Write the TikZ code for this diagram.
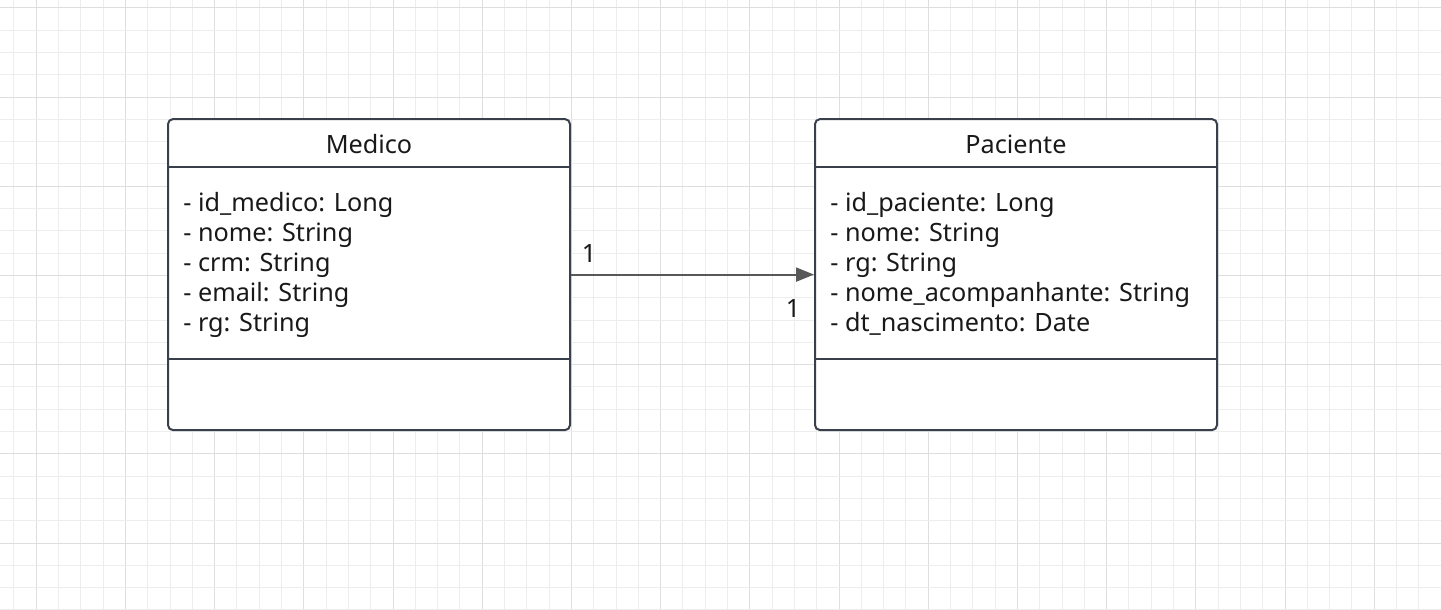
\documentclass[tikz,border=0pt]{standalone}
\usepackage{fontspec}
\setmainfont{Noto Sans}
\usetikzlibrary{arrows.meta}
\usetikzlibrary{positioning}

\definecolor{gridminor}{RGB}{237,237,237}
\definecolor{gridmajor}{RGB}{222,222,222}
\definecolor{boxline}{RGB}{58,64,75}
\definecolor{linkgray}{RGB}{88,88,88}

\tikzset{
  classbox/.style={draw=boxline, line width=1pt, rounded corners=2.5pt,
    fill=white, minimum width=201pt, minimum height=155.5pt, inner sep=0pt},
  classname/.style={font=\fontsize{12.6}{15}\selectfont, text=black!90,
    anchor=base, inner sep=0pt},
  attrlist/.style={font=\fontsize{12.6}{15}\selectfont, align=left,
    anchor=base west, inner sep=0pt, text=black!90},
  divider/.style={draw=boxline, line width=1pt},
  assoc/.style={draw=linkgray, line width=1pt, -{Triangle[length=9pt,width=7pt]}},
  mult/.style={font=\fontsize{12.6}{15}\selectfont, text=black!90,
    anchor=base, inner sep=0pt}
}

\begin{document}
\begin{tikzpicture}[x=0.5pt, y=-0.5pt]
      \useasboundingbox[fill=white] (0, 0) rectangle (1441, 610);

      % background grid
      \foreach \k in {0,...,64} {
        \pgfmathsetmacro\gx{round(13.4+22.3*\k)+0.5}
        \pgfmathsetmacro\gc{ifthenelse(mod(\k,4)==1,"gridmajor","gridminor")}
        \draw[\gc, line width=0.5pt] (\gx, 0) -- (\gx, 610);
      }
      \foreach \k in {0,...,27} {
        \pgfmathsetmacro\gy{round(7.3+22.3*\k)+0.5}
        \pgfmathsetmacro\gc{ifthenelse(mod(\k,4)==0,"gridmajor","gridminor")}
        \draw[\gc, line width=0.5pt] (0, \gy) -- (1441, \gy);
      }

      % classes
      \node (medico) at (369, 274.6) [classbox] {};
      \node (paciente) at (1016, 274.6) [classbox] {};

      \draw[divider] (168, 166.7) -- (570, 166.7);
      \draw[divider] (168, 358.5) -- (570, 358.5);
      \draw[divider] (815, 166.7) -- (1217, 166.7);
      \draw[divider] (815, 358.5) -- (1217, 358.5);

      \node (mediconame) at (369, 153.3) [classname] {Medico};
      \node (pacientename) at (1016, 153.3) [classname] {Paciente};

      % base anchor sits on the last line
      \node (medicoattrs) at (183, 331.7) [attrlist]
        {- id\_medico: Long\\- nome: String\\- crm: String\\- email: String\\- rg: String};
      \node (pacienteattrs) at (830, 331.7) [attrlist]
        {- id\_paciente: Long\\- nome: String\\- rg: String\\- nome\_acompanhante: String\\- dt\_nascimento: Date};

      % association
      \draw[assoc] (medico) -- (paciente);
      \node (medicomult) at (589, 262.7) [mult] {1};
      \node (pacientemult) at (793, 317.7) [mult] {1};
    \end{tikzpicture}
\end{document}
